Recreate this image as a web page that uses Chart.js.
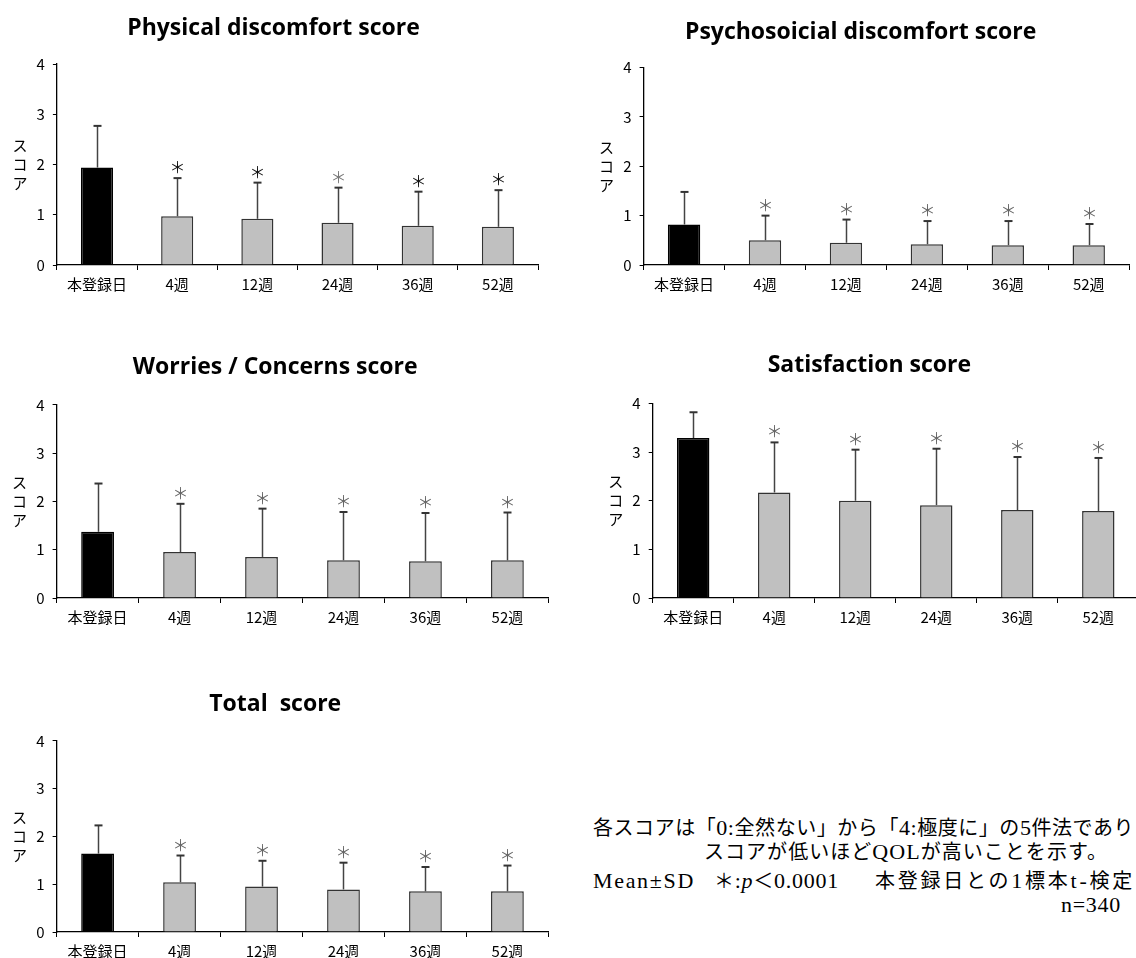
<!DOCTYPE html>
<html>
<head>
<meta charset="utf-8">
<script src="https://cdn.jsdelivr.net/npm/chart.js@4.4.1/dist/chart.umd.min.js"></script>
<style>
  html, body { margin: 0; padding: 0; background: #fff; width: 1136px; height: 958px; overflow: hidden; }
  body { position: relative; }
  canvas { position: absolute; }
  .note { position: absolute; white-space: nowrap; font-family: 'Liberation Serif', 'Noto Sans CJK JP', serif;
          font-size: 20px; line-height: 24px; color: #000; }
  .note .lat { font-size: 22px; }
</style>
</head>
<body>
<canvas id="c0"></canvas>
<canvas id="c1"></canvas>
<canvas id="c2"></canvas>
<canvas id="c3"></canvas>
<canvas id="c4"></canvas>

<div class="note" data-w="541" style="left:593px;top:816px">各スコアは「<span class="lat">0:</span>全然ない」から「<span class="lat">4:</span>極度に」の<span class="lat">5</span>件法であり</div>
<div class="note" data-w="404" style="left:704px;top:840px">スコアが低いほど<span class="lat">QOL</span>が高いことを示す。</div>
<div class="note" data-w="102" style="left:593px;top:869px"><span class="lat">Mean±SD</span></div>
<div class="note" data-w="125" style="left:714px;top:869px">＊<span class="lat">:<i>p</i></span>＜<span class="lat">0.0001</span></div>
<div class="note" data-w="260" style="left:875px;top:869px">本登録日との<span class="lat">1</span>標本<span class="lat">t-</span>検定</div>
<div class="note" data-w="60" style="left:1061px;top:893px"><span class="lat">n=340</span></div>

<script>
// ---- data ----
const categories = ['本登録日', '4週', '12週', '24週', '36週', '52週'];
const yTicks = [0, 1, 2, 3, 4];
const significant = [false, true, true, true, true, true];

const physicalMean = [1.94, 0.97, 0.92, 0.84, 0.78, 0.76];
const physicalSD   = [0.83, 0.76, 0.72, 0.70, 0.68, 0.73];

const psychosocialMean = [0.82, 0.50, 0.45, 0.42, 0.40, 0.40];
const psychosocialSD   = [0.66, 0.50, 0.47, 0.47, 0.49, 0.43];

const worriesMean = [1.37, 0.95, 0.85, 0.78, 0.76, 0.78];
const worriesSD   = [1.00, 1.00, 1.00, 1.00, 1.00, 0.99];

const satisfactionMean = [3.29, 2.17, 2.00, 1.91, 1.81, 1.79];
const satisfactionSD   = [0.53, 1.03, 1.05, 1.16, 1.09, 1.09];

const totalMean = [1.64, 1.04, 0.95, 0.89, 0.85, 0.85];
const totalSD   = [0.59, 0.56, 0.54, 0.56, 0.51, 0.54];

// ---- panel layout (page pixels of plot area and title centre) ----
const panels = [
  { id: 'c0', title: 'Physical discomfort score', mean: physicalMean, sd: physicalSD,
    left: 56.4, right: 537.5, top: 64.3, bottom: 265, titleX: 274, titleY: 29,
    starColors: ['#000', '#111', '#111', '#777', '#111', '#111'] },
  { id: 'c1', title: 'Psychosoicial discomfort score', mean: psychosocialMean, sd: psychosocialSD,
    left: 644, right: 1129.6, top: 67.7, bottom: 265.3, titleX: 862, titleY: 33,
    starColors: null },
  { id: 'c2', title: 'Worries / Concerns score', mean: worriesMean, sd: worriesSD,
    left: 56.4, right: 548.2, top: 405, bottom: 598.3, titleX: 276, titleY: 368,
    starColors: null },
  { id: 'c3', title: 'Satisfaction score', mean: satisfactionMean, sd: satisfactionSD,
    left: 652.3, right: 1138.4, top: 403.7, bottom: 598, titleX: 870, titleY: 366,
    starColors: null },
  { id: 'c4', title: 'Total  score', mean: totalMean, sd: totalSD,
    left: 56.4, right: 548.2, top: 741, bottom: 931.7, titleX: 276, titleY: 705,
    starColors: null }
];

const TITLE_SIZE = 23;
const TITLE_BOX = TITLE_SIZE * 1.2;
const X_AXIS_H = 30;
const Y_LABEL_OFFSET = 37;

Chart.defaults.color = '#000';
Chart.defaults.font.family = "'Noto Sans CJK JP', sans-serif";

// upward SD whiskers with caps, plus significance marks
const errorBars = {
  id: 'errorBars',
  afterDatasetsDraw(chart, args, opts) {
    const { ctx } = chart;
    const y = chart.scales.y;
    const meta = chart.getDatasetMeta(0);
    const values = chart.data.datasets[0].data;
    meta.data.forEach((bar, i) => {
      const yTop = y.getPixelForValue(values[i] + opts.sd[i]);
      const x = Math.round(bar.x) + 0.5;
      ctx.save();
      ctx.strokeStyle = '#444';
      ctx.lineWidth = 1.5;
      ctx.beginPath();
      ctx.moveTo(x, bar.y);
      ctx.lineTo(x, yTop);
      ctx.stroke();
      ctx.strokeStyle = '#333';
      ctx.lineWidth = 2;
      ctx.beginPath();
      ctx.moveTo(x - 4, yTop);
      ctx.lineTo(x + 4, yTop);
      ctx.stroke();
      if (opts.sig[i]) {
        ctx.fillStyle = opts.starColors ? opts.starColors[i] : '#666';
        ctx.font = "16px 'Noto Sans CJK JP'";
        ctx.textAlign = 'center';
        ctx.textBaseline = 'middle';
        ctx.fillText('＊', x, yTop - 11);
      }
      ctx.restore();
    });
  }
};

// vertical stacked axis caption
const stackedYLabel = {
  id: 'stackedYLabel',
  afterDraw(chart, args, opts) {
    const { ctx, chartArea } = chart;
    const chars = Array.from(opts.text);
    const step = 19;
    const cx = chartArea.left - opts.offset;
    const cy = (chartArea.top + chartArea.bottom) / 2;
    ctx.save();
    ctx.font = "15px 'Noto Sans CJK JP'";
    ctx.fillStyle = '#000';
    ctx.textAlign = 'center';
    ctx.textBaseline = 'middle';
    chars.forEach((c, i) => {
      ctx.fillText(c, cx, cy + (i - (chars.length - 1) / 2) * step);
    });
    ctx.restore();
  }
};

panels.forEach(p => {
  const half = Math.max(p.right - p.titleX, p.titleX - p.left + 45) + 2;
  const L = p.titleX - half;
  const W = Math.round(2 * half);
  const T = p.titleY - TITLE_BOX / 2;
  const H = Math.round(p.bottom + X_AXIS_H - T);
  const axisW = p.left - L;
  const padRight = L + W - p.right;
  const titlePadBottom = p.top - T - TITLE_BOX;

  const canvas = document.getElementById(p.id);
  canvas.width = W;
  canvas.height = H;
  canvas.style.left = L + 'px';
  canvas.style.top = T + 'px';

  new Chart(canvas, {
    type: 'bar',
    data: {
      labels: categories,
      datasets: [{
        data: p.mean,
        backgroundColor: p.mean.map((_, i) => i === 0 ? '#000000' : '#c0c0c0'),
        borderColor: p.mean.map((_, i) => i === 0 ? '#000000' : '#333333'),
        borderWidth: 1.5,
        categoryPercentage: 1.0,
        barPercentage: 0.4
      }]
    },
    options: {
      responsive: false,
      animation: false,
      events: [],
      layout: { padding: { left: 0, right: padRight, top: 0, bottom: 0 } },
      plugins: {
        legend: { display: false },
        tooltip: { enabled: false },
        title: {
          display: true,
          text: p.title,
          color: '#000',
          font: { family: "'Open Sans', sans-serif", weight: 'bold', size: TITLE_SIZE, lineHeight: 1.2 },
          padding: { top: 0, bottom: titlePadBottom }
        },
        errorBars: { sd: p.sd, sig: significant, starColors: p.starColors },
        stackedYLabel: { text: 'スコア', offset: Y_LABEL_OFFSET }
      },
      scales: {
        x: {
          grid: { offset: true, drawOnChartArea: false, drawTicks: true, tickLength: 5, color: '#000', lineWidth: 1 },
          border: { display: true, color: '#000', width: 1.3 },
          ticks: { font: { size: 15, family: "'Noto Sans CJK JP'" }, color: '#000', padding: 5, maxRotation: 0, autoSkip: false },
          afterFit: s => { s.height = X_AXIS_H; }
        },
        y: {
          min: yTicks[0],
          max: yTicks[yTicks.length - 1],
          afterBuildTicks: s => { s.ticks = yTicks.map(v => ({ value: v })); },
          grid: { drawOnChartArea: false, drawTicks: true, tickLength: 4, color: '#000', lineWidth: 1 },
          border: { display: true, color: '#000', width: 1.3 },
          ticks: { font: { size: 15, family: "'Liberation Sans Narrow', 'Noto Sans CJK JP'" }, color: '#000', padding: 8 },
          afterFit: s => { s.width = axisW; }
        }
      }
    },
    plugins: [errorBars, stackedYLabel]
  });
});

// stretch the note lines to their set widths
function fitNotes() {
  document.querySelectorAll('.note').forEach(el => {
    el.style.letterSpacing = '0px';
    const target = parseFloat(el.dataset.w);
    const natural = el.getBoundingClientRect().width;
    const n = Array.from(el.textContent).length;
    el.style.letterSpacing = Math.max(-1, (target - natural) / n) + 'px';
  });
}
fitNotes();
if (document.fonts && document.fonts.ready) document.fonts.ready.then(fitNotes);
</script>
</body>
</html>
